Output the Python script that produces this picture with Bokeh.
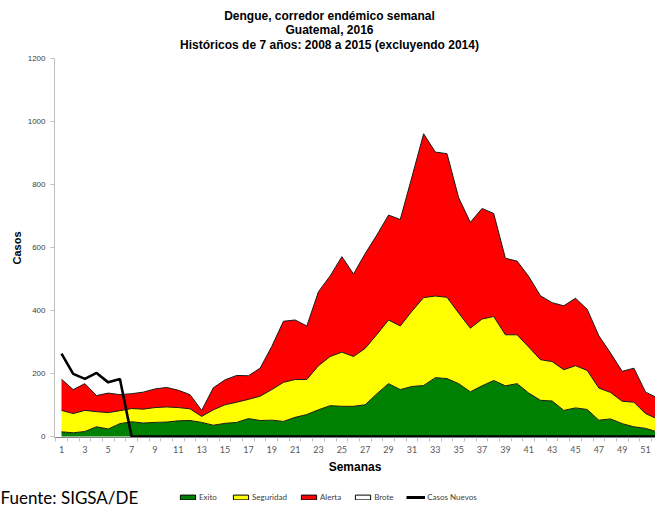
from bokeh.plotting import figure
from bokeh.layouts import column
from bokeh.models import (Range1d, FixedTicker, Label, Legend, LegendItem, ColumnDataSource)
from bokeh.embed import file_html
from bokeh.resources import INLINE

weeks = list(range(1, 53))
exito = [15, 12, 16, 31, 24, 41, 47, 43, 45, 46, 50, 51, 45, 36, 42, 45, 57, 51, 52, 48,
         61, 70, 85, 98, 96, 96, 101, 136, 168, 149, 159, 162, 187, 184, 168, 142, 161, 178,
         161, 168, 138, 115, 113, 83, 91, 86, 52, 56, 41, 31, 26, 15]
seguridad = [83, 73, 83, 79, 76, 82, 89, 87, 92, 94, 92, 88, 64, 85, 101, 109, 118, 128, 149,
             172, 181, 181, 225, 254, 268, 254, 280, 324, 370, 351, 398, 441, 446, 442, 392,
             344, 373, 381, 323, 323, 284, 244, 238, 212, 225, 210, 154, 140, 112, 109, 73, 56]
alerta = [182, 149, 168, 130, 138, 133, 136, 141, 151, 156, 147, 133, 83, 155, 180, 194, 193,
          217, 286, 366, 370, 351, 460, 510, 571, 516, 581, 640, 703, 689, 824, 961, 903, 898,
          758, 680, 724, 708, 566, 557, 508, 447, 425, 415, 439, 404, 320, 265, 207, 217, 141, 123]
casos_nuevos = [263, 199, 183, 202, 172, 183] + [0] * 46

y_ticks = [0, 200, 400, 600, 800, 1000, 1200]
x_ticks = list(range(1, 53, 2))
x_minor = [w + 0.5 for w in range(0, 53)]

title_lines = ["Dengue, corredor endémico semanal", "Guatemal, 2016",
               "Históricos de 7 años: 2008 a 2015 (excluyendo 2014)"]
legend_labels = ["Exito", "Seguridad", "Alerta", "Brote", "Casos Nuevos"]
legend_colors = ["#008000", "#FFFF00", "#FF0000", "white"]
source_text = "Fuente: SIGSA/DE"

W = 655


def blank_fig(h):
    f = figure(width=W, height=h, output_backend="svg", toolbar_location=None,
               x_range=Range1d(0, W), y_range=Range1d(0, h),
               min_border_left=0, min_border_right=0, min_border_top=0, min_border_bottom=0,
               x_axis_type=None, y_axis_type=None, frame_align=False)
    f.outline_line_color = None
    f.xgrid.grid_line_color = None
    f.ygrid.grid_line_color = None
    return f


# ---- title strip
top = blank_fig(53)
for txt, yv in zip(title_lines, [38, 24, 9]):
    top.add_layout(Label(x=329, y=yv, text=txt, text_align="center", text_baseline="middle",
                         text_font="Liberation Sans", text_font_style="bold",
                         text_font_size="12px", text_color="black"))

# ---- main chart
src = ColumnDataSource(dict(w=weeks, ex=exito, se=seguridad, al=alerta, cn=casos_nuevos,
                            zero=[0] * len(weeks)))

p = figure(width=W, height=427, output_backend="svg", toolbar_location=None,
           x_range=Range1d(0.40, 51.85), y_range=Range1d(-3, 1200),
           min_border_left=54, min_border_right=0, min_border_top=5, min_border_bottom=43,
           frame_align=False)
p.outline_line_color = None
p.xgrid.grid_line_color = None
p.ygrid.grid_line_color = None

EDGE = "#1a1a1a"
p.varea(x="w", y1="zero", y2="ex", source=src, fill_color=legend_colors[0])
p.varea(x="w", y1="ex", y2="se", source=src, fill_color=legend_colors[1])
p.varea(x="w", y1="se", y2="al", source=src, fill_color=legend_colors[2])
p.line(x="w", y="al", source=src, line_color=EDGE, line_width=1)
p.line(x="w", y="se", source=src, line_color=EDGE, line_width=1)
p.line(x="w", y="ex", source=src, line_color=EDGE, line_width=1)
p.line(x="w", y="cn", source=src, line_color="black", line_width=2.6)

p.yaxis.ticker = FixedTicker(ticks=y_ticks)
p.yaxis.axis_line_color = "#BFBFBF"
p.yaxis.major_tick_line_color = "#BFBFBF"
p.yaxis.major_tick_out = 4
p.yaxis.major_tick_in = 0
p.yaxis.minor_tick_line_color = None
p.yaxis.major_label_text_font = "Liberation Sans"
p.yaxis.major_label_text_font_size = "8px"
p.yaxis.major_label_text_color = "#404040"
p.yaxis.major_label_standoff = 5
p.yaxis.axis_label = "Casos"
p.yaxis.axis_label_text_font = "Liberation Sans"
p.yaxis.axis_label_text_font_style = "bold"
p.yaxis.axis_label_text_font_size = "11px"
p.yaxis.axis_label_text_color = "black"
p.yaxis.axis_label_standoff = 2

p.xaxis.ticker = FixedTicker(ticks=x_ticks, minor_ticks=x_minor)
p.xaxis.axis_line_color = "#808080"
p.xaxis.major_tick_line_color = None
p.xaxis.major_tick_out = 0
p.xaxis.major_tick_in = 0
p.xaxis.minor_tick_line_color = "#BFBFBF"
p.xaxis.minor_tick_out = 4
p.xaxis.minor_tick_in = 0
p.xaxis.major_label_text_font = "Lato"
p.xaxis.major_label_text_font_size = "9px"
p.xaxis.major_label_text_color = "#595959"
p.xaxis.major_label_standoff = 4
p.xaxis.axis_label = "Semanas"
p.xaxis.axis_label_text_font = "Liberation Sans"
p.xaxis.axis_label_text_font_style = "bold"
p.xaxis.axis_label_text_font_size = "12px"
p.xaxis.axis_label_text_color = "black"
p.xaxis.axis_label_standoff = 4

# ---- bottom strip: source note + legend
bot = blank_fig(29)
bot.add_layout(Label(x=0, y=12, text=source_text, text_align="left", text_baseline="middle",
                     text_font="Lato", text_font_size="17px", text_color="black"))
# legend-only renderers, placed off-canvas
rends = []
for c in legend_colors:
    rends.append(bot.quad(left=[-50], right=[-40], top=[-50], bottom=[-60], fill_color=c,
                          line_color="black", line_width=1))
rends.append(bot.line(x=[-50, -40], y=[-50, -50], line_color="black", line_width=3))
legend = Legend(items=[LegendItem(label=l, renderers=[r]) for l, r in zip(legend_labels, rends)],
                orientation="horizontal", location=(178, 7),
                glyph_width=19, glyph_height=6, label_standoff=2, spacing=12,
                padding=0, margin=0, border_line_color=None, background_fill_alpha=0,
                label_text_font="Lato", label_text_font_size="8px",
                label_text_color="#404040", label_height=9)
bot.add_layout(legend, "center")

layout = column(top, p, bot, spacing=0)
open("out.html", "w").write(file_html(layout, INLINE))
